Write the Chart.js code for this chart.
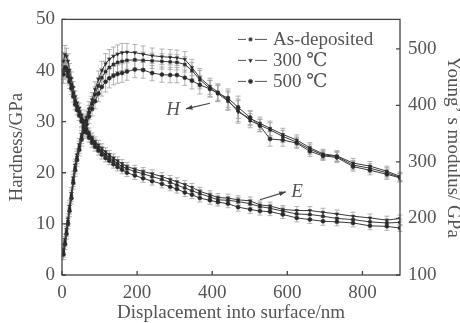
<!DOCTYPE html>
<html>
<head>
<meta charset="utf-8">
<script src="https://cdn.jsdelivr.net/npm/chart.js@4.4.0/dist/chart.umd.min.js"></script>
<style>
html, body { margin: 0; padding: 0; background: #fff; }
</style>
</head>
<body>
<canvas id="myChart" width="460" height="323"></canvas>
<script>
// displacement into surface, nm
const displacement = [4, 8, 12, 16, 20, 25, 30, 35, 40, 46, 52, 58, 65, 72, 80, 88, 97, 106, 116, 126,
  137, 148, 160, 173, 194, 216, 240, 266, 288, 306, 327, 346, 367, 394, 415, 442, 469, 501, 527, 554,
  588, 625, 660, 695, 732, 775, 820, 865, 900];

// hardness, GPa (left axis)
const hardAsDep = [4.5, 6.5, 8.5, 10.5, 13, 15.5, 18.5, 21, 23, 25, 27, 28.5, 30.2, 31.8, 33.5, 35.3, 37, 38.6, 39.8, 40.6,
  41.2, 41.6, 41.8, 42, 42.1, 42, 41.9, 41.8, 41.7, 41.6, 41.2, 40, 38.2, 36.5, 35.5, 34, 32.2, 30.2, 29.3, 28.4,
  27.1, 26, 24.6, 23.5, 23.2, 21.5, 20.9, 20, 19.1];
const hard300 = [5, 7, 9, 11, 13.5, 16, 19, 21.5, 23.5, 25.5, 27.5, 29, 30.8, 32.5, 34.3, 36.3, 38.3, 40, 41.3, 42.2,
  42.8, 43.2, 43.5, 43.6, 43.5, 43.2, 42.9, 42.7, 42.6, 42.5, 42.2, 40.6, 38.6, 36.9, 35.8, 34.2, 31.9, 30.6, 29.7, 28.7,
  27.5, 26.4, 24.9, 23.7, 23.3, 21.9, 21.3, 20.3, 19.3];
const hard500 = [4, 6, 8, 10, 12.5, 15, 18, 20.5, 22.5, 24.5, 26.5, 28, 29.5, 31, 32.5, 34, 35.5, 36.8, 37.8, 38.5,
  39, 39.3, 39.5, 39.8, 40.2, 40.1, 39.5, 39.2, 39.1, 39.1, 38.6, 38, 37.2, 36.4, 35.6, 34.6, 32.8, 30.8, 29.2, 26.6,
  26.4, 25.8, 24.2, 23.3, 23, 21.2, 20.5, 19.7, 19];

// Young's modulus, GPa (right axis)
const modAsDep = [462, 468, 466, 458, 448, 436, 422, 408, 398, 388, 377, 368, 358, 348, 339, 332, 325, 319, 313, 308,
  302, 297, 292, 288, 283, 279, 274, 269, 264, 259, 254, 249, 244, 238, 233, 232, 230, 226, 221, 218,
  213, 208, 207, 204, 200, 198, 194, 192, 193];
const mod300 = [478, 490, 487, 478, 462, 448, 432, 415, 404, 395, 383, 373, 364, 352, 343, 336, 330, 324, 318, 313,
  307, 302, 297, 292, 287, 283, 279, 274, 269, 265, 260, 255, 248, 242, 237, 236, 233, 231, 224, 222,
  216, 214, 214, 211, 208, 204, 201, 197, 200];
const mod500 = [455, 465, 462, 452, 442, 430, 416, 402, 392, 382, 372, 362, 352, 343, 334, 327, 320, 313, 307, 302,
  296, 291, 286, 281, 276, 271, 266, 261, 256, 252, 246, 242, 236, 232, 229, 226, 220, 216, 213, 212,
  207, 201, 198, 195, 194, 192, 187, 186, 183];

// error bar half-heights
const hardErr = [1, 1, 1, 1, 1.1, 1.1, 1.2, 1.2, 1.2, 1.2, 1.3, 1.3, 1.3, 1.4, 1.4, 1.5, 1.6, 1.8, 2, 1.9,
  1.8, 1.8, 1.8, 1.7, 1.6, 1.6, 1.5, 1.5, 1.5, 1.5, 1.5, 1.6, 1.8, 1.6, 1.6, 1.8, 2.2, 1.4, 1.2, 1.4,
  1.2, 1, 1, 0.9, 1, 0.9, 0.9, 1, 0.8];
const modErr = [16, 16, 14, 13, 12, 11, 10, 10, 9, 9, 9, 9, 8, 8, 8, 8, 8, 8, 7, 7,
  7, 7, 7, 7, 7, 7, 7, 7, 7, 7, 7, 7, 7, 7, 7, 7, 7, 7, 7, 7,
  7, 7, 7, 7, 7, 7, 7, 7, 6];

// tick labels
const xTicks = [0, 200, 400, 600, 800];
const hardTicks = [0, 10, 20, 30, 40, 50];
const modTicks = [100, 200, 300, 400, 500];

const seriesNames = ['As-deposited', '300 ℃', '500 ℃'];
const markers = ['rect', 'triangle', 'circle'];

const serif = '"Liberation Serif", "DejaVu Serif", serif';
const textCol = '#555';
const lineCol = '#3a3a3a';

function pts(arr) {
  return arr.map((v, i) => ({ x: displacement[i], y: v }));
}

function fixTicks(list) {
  return s => { s.ticks = list.map(v => ({ value: v })); };
}

function makeSet(label, arr, k, axis) {
  return {
    label: label,
    data: pts(arr),
    yAxisID: axis,
    borderColor: lineCol,
    borderWidth: 1,
    backgroundColor: '#2a2a2a',
    pointBackgroundColor: '#2a2a2a',
    pointBorderColor: '#2a2a2a',
    pointBorderWidth: 0.5,
    pointStyle: markers[k],
    rotation: k === 1 ? 180 : 0,
    pointRadius: 2,
    tension: 0,
    fill: false
  };
}

const errorBars = {
  id: 'errorBars',
  beforeDatasetsDraw(chart) {
    const ctx = chart.ctx;
    ctx.save();
    ctx.strokeStyle = '#a0a0a0';
    ctx.lineWidth = 0.8;
    chart.data.datasets.forEach((ds, i) => {
      const meta = chart.getDatasetMeta(i);
      const ys = chart.scales[ds.yAxisID];
      const err = ds.yAxisID === 'y' ? hardErr : modErr;
      meta.data.forEach((p, j) => {
        const v = ds.data[j].y;
        const t = ys.getPixelForValue(v + err[j]);
        const b = ys.getPixelForValue(v - err[j]);
        ctx.beginPath();
        ctx.moveTo(p.x, t); ctx.lineTo(p.x, b);
        ctx.moveTo(p.x - 2.5, t); ctx.lineTo(p.x + 2.5, t);
        ctx.moveTo(p.x - 2.5, b); ctx.lineTo(p.x + 2.5, b);
        ctx.stroke();
      });
    });
    ctx.restore();
  }
};

function arrow(ctx, x1, y1, x2, y2) {
  const ang = Math.atan2(y2 - y1, x2 - x1);
  ctx.beginPath();
  ctx.moveTo(x1, y1);
  ctx.lineTo(x2, y2);
  ctx.stroke();
  ctx.beginPath();
  ctx.moveTo(x2, y2);
  ctx.lineTo(x2 - 7 * Math.cos(ang - 0.35), y2 - 7 * Math.sin(ang - 0.35));
  ctx.lineTo(x2 - 7 * Math.cos(ang + 0.35), y2 - 7 * Math.sin(ang + 0.35));
  ctx.closePath();
  ctx.fill();
}

const frame = {
  id: 'frame',
  afterDatasetsDraw(chart) {
    const { ctx, chartArea: a, scales } = chart;
    const sx = scales.x, sy = scales.y, sy2 = scales.y2;
    ctx.save();
    ctx.strokeStyle = '#444';
    ctx.lineWidth = 1.3;
    ctx.strokeRect(a.left, a.top, a.right - a.left, a.bottom - a.top);

    // inward ticks
    ctx.beginPath();
    sx.ticks.forEach(t => {
      const px = sx.getPixelForValue(t.value);
      ctx.moveTo(px, a.bottom); ctx.lineTo(px, a.bottom - 4);
    });
    sy.ticks.forEach(t => {
      const py = sy.getPixelForValue(t.value);
      ctx.moveTo(a.left, py); ctx.lineTo(a.left + 4, py);
    });
    sy2.ticks.forEach(t => {
      const py = sy2.getPixelForValue(t.value);
      ctx.moveTo(a.right, py); ctx.lineTo(a.right - 4, py);
    });
    ctx.stroke();

    // legend
    ctx.fillStyle = textCol;
    ctx.font = '19px ' + serif;
    ctx.textBaseline = 'middle';
    seriesNames.forEach((name, k) => {
      const y = a.top + 20 + k * 21;
      const x0 = a.left + 176;
      ctx.strokeStyle = '#555';
      ctx.lineWidth = 1;
      ctx.beginPath();
      ctx.moveTo(x0, y); ctx.lineTo(x0 + 8, y);
      ctx.moveTo(x0 + 17, y); ctx.lineTo(x0 + 29, y);
      ctx.stroke();
      ctx.fillStyle = '#2a2a2a';
      Chart.helpers.drawPoint(ctx, { pointStyle: markers[k], radius: 2, rotation: k === 1 ? 180 : 0, borderWidth: 0.5 }, x0 + 12.5, y);
      ctx.fillStyle = textCol;
      ctx.fillText(name, x0 + 35, y + 1);
    });

    // H and E labels with arrows
    ctx.font = 'italic 19px ' + serif;
    ctx.textAlign = 'center';
    ctx.fillText('H', sx.getPixelForValue(296), sy.getPixelForValue(32.3));
    ctx.fillText('E', sx.getPixelForValue(626), sy2.getPixelForValue(247));
    ctx.strokeStyle = '#444';
    ctx.fillStyle = '#444';
    ctx.lineWidth = 1.2;
    arrow(ctx, sx.getPixelForValue(394), sy.getPixelForValue(33.6), sx.getPixelForValue(330), sy.getPixelForValue(32.5));
    arrow(ctx, sx.getPixelForValue(527), sy2.getPixelForValue(233), sx.getPixelForValue(596), sy2.getPixelForValue(247));
    ctx.restore();
  }
};

const tickFont = { family: serif, size: 19 };

new Chart(document.getElementById('myChart'), {
  type: 'line',
  data: {
    datasets: [
      makeSet(seriesNames[0], hardAsDep, 0, 'y'),
      makeSet(seriesNames[1], hard300, 1, 'y'),
      makeSet(seriesNames[2], hard500, 2, 'y'),
      makeSet(seriesNames[0], modAsDep, 0, 'y2'),
      makeSet(seriesNames[1], mod300, 1, 'y2'),
      makeSet(seriesNames[2], mod500, 2, 'y2')
    ]
  },
  options: {
    responsive: false,
    animation: false,
    devicePixelRatio: 1,
    layout: { padding: { top: 15, left: 0, right: 0, bottom: 0 } },
    plugins: { legend: { display: false }, tooltip: { enabled: false } },
    scales: {
      x: {
        type: 'linear',
        min: 0, max: 900,
        grid: { display: false, drawTicks: false },
        border: { display: false },
        ticks: { font: tickFont, color: textCol, padding: 7, autoSkip: false, maxRotation: 0 },
        afterBuildTicks: fixTicks(xTicks),
        afterFit: s => { s.height = 48; },
        title: { display: true, text: 'Displacement into surface/nm', font: { family: serif, size: 19, lineHeight: 1 }, color: textCol, padding: { top: 0, bottom: 0.5 } }
      },
      y: {
        position: 'left',
        min: 0, max: 50,
        grid: { display: false, drawTicks: false },
        border: { display: false },
        ticks: { font: tickFont, color: textCol, padding: 7, autoSkip: false },
        afterBuildTicks: fixTicks(hardTicks),
        afterFit: s => { s.width = 62; },
        title: { display: true, text: 'Hardness/GPa', font: { family: serif, size: 19, lineHeight: 1 }, color: textCol, padding: { top: 8, bottom: 0 } }
      },
      y2: {
        position: 'right',
        min: 100, max: 552,
        grid: { display: false, drawTicks: false },
        border: { display: false },
        ticks: { font: tickFont, color: textCol, padding: 8, autoSkip: false },
        afterBuildTicks: fixTicks(modTicks),
        afterFit: s => { s.width = 60; },
        title: { display: true, text: 'Young’ s modulus/ GPa', font: { family: serif, size: 19, lineHeight: 1 }, color: textCol, padding: { top: -2.5, bottom: 0 } }
      }
    }
  },
  plugins: [errorBars, frame]
});
</script>
</body>
</html>
